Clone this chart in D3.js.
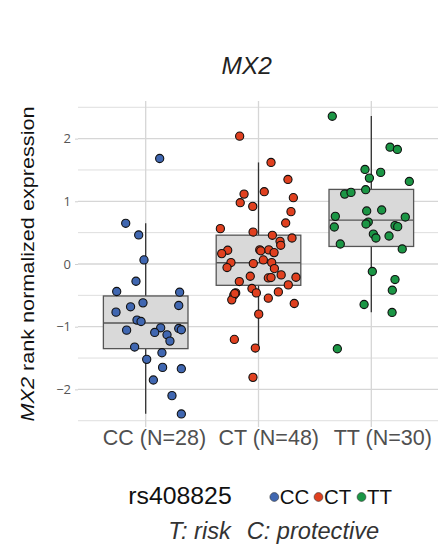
<!DOCTYPE html>
<html lang="en">
<head>
<meta charset="UTF-8">
<title>MX2</title>
<script src="https://d3js.org/d3.v7.min.js"></script>
<style>
  body { margin: 0; background: #fff; }
  svg { display: block; }
</style>
</head>
<body>
<div id="chart"></div>
<script>
// genotype groups
var groups = ["CC", "CT", "TT"];
var groupLabels = ["CC (N=28)", "CT (N=48)", "TT (N=30)"];
var groupColors = ["#4067b1", "#e0401f", "#1b9645"];

// rank normalized expression, jitter = horizontal offset in group steps
var ccValues = [1.683, 0.649, 0.463, 0.065, -0.275, -0.439, -0.45, -0.62, -0.683, -0.662,
  -0.768, -0.895, -0.917, -1.055, -1.018, -1.092, -1.129, -1.028, -1.049, -1.23,
  -1.325, -1.521, -1.416, -1.649, -1.67, -1.85, -2.1, -2.392];
var ccJitter = [0.124, -0.177, -0.062, -0.015, -0.086, -0.257, 0.301, -0.024, -0.134, 0.293,
  -0.263, -0.077, -0.041, -0.169, 0.133, 0.080, 0.189, 0.293, 0.316, 0.215,
  -0.098, 0.009, 0.144, 0.150, 0.316, 0.068, 0.233, 0.316];

var ctValues = [2.039, 1.62, 1.349, 1.115, 1.153, 0.978, 1.058, 0.919, 0.835, 0.654,
  0.564, 0.510, 0.458, 0.415, 0.362, 0.298, 0.219, 0.166, 0.225, 0.225,
  0.182, 0.065, 0.023, 0.023, -0.057, 0.007, -0.073, -0.195, -0.174, -0.222,
  -0.216, -0.211, -0.28, -0.333, -0.391, -0.461, -0.445, -0.461, -0.497, -0.572,
  -0.545, -0.63, -0.8, -1.203, -1.341, -1.808, 0.21, -0.47];
var ctJitter = [-0.167, 0.111, 0.261, -0.128, 0.051, -0.162, 0.309, -0.051, 0.288, 0.241,
  -0.338, -0.048, 0.123, 0.297, 0.191, 0.197, -0.273, -0.326, 0.011, 0.091,
  0.138, 0.043, 0.117, -0.244, -0.279, -0.046, 0.141, -0.073, 0.201, 0.087,
  0.111, 0.332, -0.17, 0.264, -0.058, -0.019, 0.176, -0.202, -0.219, -0.237,
  0.087, 0.317, 0.002, -0.214, -0.028, -0.049, 0.02, -0.21];

var ttValues = [2.357, 1.863, 1.827, 1.508, 1.461, 1.37, 1.317, 1.185, 1.115, 1.142,
  0.845, 0.861, 0.76, 0.749, 0.59, 0.669, 0.638, 0.612, 0.596, 0.478,
  0.415, 0.447, 0.319, 0.24, -0.12, -0.248, -0.418, -0.646, -0.773, -1.352];
var ttJitter = [-0.346, 0.166, 0.231, -0.056, 0.083, -0.017, 0.337, -0.05, -0.236, -0.18,
  -0.041, 0.092, -0.319, 0.301, -0.328, -0.027, -0.047, 0.210, 0.234, 0.018,
  0.041, 0.157, -0.275, 0.274, 0.009, 0.210, 0.186, -0.064, 0.184, -0.301];

// boxplot stats
var whiskerLow = [-2.39, -1.34, -0.77];
var q1 = [-1.35, -0.34, 0.28];
var median = [-0.94, 0.02, 0.70];
var q3 = [-0.51, 0.46, 1.19];
var whiskerHigh = [0.65, 1.62, 2.36];

var yTicks = [-2, -1, 0, 1, 2];
var yMinor = [-2.5, -1.5, -0.5, 0.5, 1.5, 2.5];

var width = 438, height = 546;
var panel = {left: 78, right: 439, top: 101, bottom: 427};

var svg = d3.select("#chart").append("svg")
    .attr("width", width)
    .attr("height", height);

var x = d3.scalePoint()
    .domain(groups)
    .range([panel.left, panel.right])
    .padding(0.6);
var step = x.step();

var y = d3.scaleLinear()
    .domain([-2.6, 2.6])
    .range([panel.bottom, panel.top]);

// grid
svg.append("g").selectAll("line.minor")
    .data(yMinor).enter().append("line")
    .attr("x1", panel.left).attr("x2", panel.right)
    .attr("y1", d => y(d)).attr("y2", d => y(d))
    .attr("stroke", "#dedede").attr("stroke-width", 1);

svg.append("g").selectAll("line.major")
    .data(yTicks).enter().append("line")
    .attr("x1", panel.left).attr("x2", panel.right)
    .attr("y1", d => y(d)).attr("y2", d => y(d))
    .attr("stroke", "#d6d6d6").attr("stroke-width", 1.3);

svg.append("g").selectAll("line")
    .data(groups).enter().append("line")
    .attr("x1", d => x(d)).attr("x2", d => x(d))
    .attr("y1", panel.top).attr("y2", panel.bottom)
    .attr("stroke", "#d6d6d6").attr("stroke-width", 1.3);

// y axis
var yAxis = svg.append("g")
    .attr("transform", "translate(" + panel.left + ",0)")
    .call(d3.axisLeft(y).tickValues(yTicks).tickSize(3).tickPadding(4).tickFormat(d3.format("d")));
yAxis.select(".domain").remove();
yAxis.selectAll(".tick line").attr("stroke", "#cfcfcf");
yAxis.selectAll(".tick text")
    .attr("fill", "#555")
    .style("font-family", "'Open Sans', sans-serif")
    .style("font-size", "13px");

// boxes
var boxes = svg.append("g");
groups.forEach(function(g, i) {
  var cx = x(g), bw = step * 0.75;
  boxes.append("line")
      .attr("x1", cx).attr("x2", cx)
      .attr("y1", y(whiskerLow[i])).attr("y2", y(whiskerHigh[i]))
      .attr("stroke", "#333").attr("stroke-width", 1.3);
  boxes.append("rect")
      .attr("x", cx - bw / 2).attr("width", bw)
      .attr("y", y(q3[i])).attr("height", y(q1[i]) - y(q3[i]))
      .attr("fill", "#d9d9d9").attr("stroke", "#555").attr("stroke-width", 1.3);
  boxes.append("line")
      .attr("x1", cx - bw / 2).attr("x2", cx + bw / 2)
      .attr("y1", y(median[i])).attr("y2", y(median[i]))
      .attr("stroke", "#555").attr("stroke-width", 1.4);
});

// points
var series = [[ccValues, ccJitter], [ctValues, ctJitter], [ttValues, ttJitter]];
series.forEach(function(s, i) {
  var pts = s[0].map(function(v, j) { return {v: v, dx: s[1][j]}; });
  svg.append("g").selectAll("circle")
      .data(pts).enter().append("circle")
      .attr("cx", d => x(groups[i]) + d.dx * step)
      .attr("cy", d => y(d.v))
      .attr("r", 4.1)
      .attr("fill", groupColors[i])
      .attr("stroke", "#111")
      .attr("stroke-width", 1.1);
});

// x labels
svg.append("g").selectAll("text")
    .data(groups).enter().append("text")
    .attr("x", d => x(d) + 60.5)
    .attr("y", 445)
    .attr("text-anchor", "end")
    .attr("fill", "#505050")
    .style("font-family", "'Liberation Sans', Arial, sans-serif")
    .style("font-size", "21.5px")
    .text((d, i) => groupLabels[i]);

// title
svg.append("text")
    .attr("x", 246.7).attr("y", 73.7)
    .attr("text-anchor", "middle")
    .attr("fill", "#222")
    .style("font-family", "'Liberation Sans', Arial, sans-serif")
    .style("font-style", "italic")
    .style("font-size", "24.5px")
    .text("MX2");

// y title
var yTitle = svg.append("text")
    .attr("transform", "translate(34," + (panel.top + panel.bottom) / 2 + ") rotate(-90)")
    .attr("text-anchor", "middle")
    .attr("fill", "#111")
    .attr("textLength", 315)
    .attr("lengthAdjust", "spacingAndGlyphs")
    .style("font-family", "'Liberation Sans', Arial, sans-serif")
    .style("font-size", "18px");
yTitle.append("tspan").style("font-style", "italic").text("MX2");
yTitle.append("tspan").text(" rank normalized expression");

// legend
var legend = svg.append("g");
legend.append("text")
    .attr("x", 128.3).attr("y", 504)
    .attr("fill", "#111")
    .style("font-family", "'Liberation Sans', Arial, sans-serif")
    .style("font-size", "24.8px")
    .text("rs408825");
var legendX = [274.3, 318.5, 361.5];
groups.forEach(function(g, i) {
  legend.append("circle")
      .attr("cx", legendX[i]).attr("cy", 497)
      .attr("r", 4.4)
      .attr("fill", groupColors[i])
      .attr("stroke", "#333").attr("stroke-width", 0.6);
  legend.append("text")
      .attr("x", legendX[i] + 5.5).attr("y", 503.5)
      .attr("fill", "#111")
      .style("font-family", "'Liberation Sans', Arial, sans-serif")
      .style("font-size", "20.5px")
      .text(g);
});

// genotype note
svg.append("text")
    .attr("x", 168.3).attr("y", 538.5)
    .attr("fill", "#333")
    .style("font-family", "'Liberation Sans', Arial, sans-serif")
    .style("font-style", "italic")
    .style("font-size", "23.6px")
    .text("T: risk");
svg.append("text")
    .attr("x", 246.7).attr("y", 538.5)
    .attr("fill", "#333")
    .style("font-family", "'Liberation Sans', Arial, sans-serif")
    .style("font-style", "italic")
    .style("font-size", "23.6px")
    .text("C: protective");
</script>
</body>
</html>
